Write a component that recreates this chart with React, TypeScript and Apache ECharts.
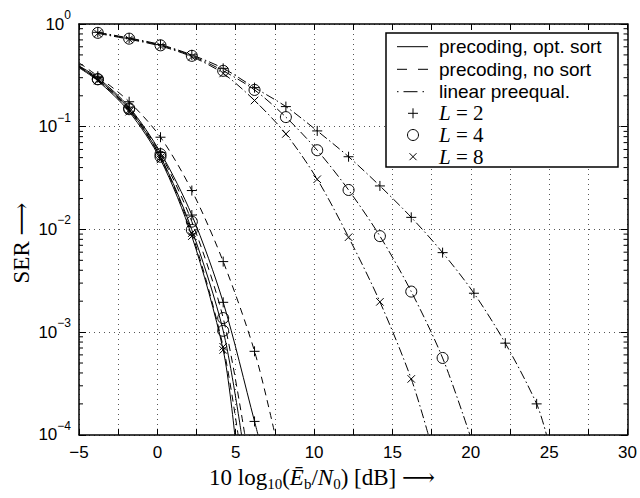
import React, { useEffect, useRef } from "react";
import * as echarts from "echarts";

// Marker positions (dB)
const snrDb = [-3.8, -1.8, 0.2, 2.2, 4.2, 6.2, 8.2, 10.2, 12.2, 14.2, 16.2, 18.2, 20.2, 22.2, 24.2];

// Precoding, optimum sorting (solid)
const optL2 = [0.3, 0.155, 0.056, 0.0138, 0.00195, 0.000135];
const optL4 = [0.29, 0.148, 0.051, 0.0099, 0.00103];
const optL8 = [0.28, 0.14, 0.048, 0.0086, 0.00067];
// Precoding, no sorting (dashed)
const nsL2 = [0.31, 0.175, 0.079, 0.0239, 0.00486, 0.00065];
const nsL4 = [0.29, 0.151, 0.054, 0.0119, 0.00137];
const nsL8 = [0.285, 0.145, 0.05, 0.0092, 0.00072];
// Linear pre-equalization (dash-dot)
const linL2 = [0.83, 0.73, 0.63, 0.5, 0.37, 0.24, 0.157, 0.091, 0.051, 0.0265, 0.0131, 0.00594, 0.00239, 0.00078, 0.0002];
const linL4 = [0.82, 0.72, 0.62, 0.49, 0.35, 0.228, 0.124, 0.059, 0.0242, 0.0086, 0.00248, 0.00056];
const linL8 = [0.81, 0.71, 0.61, 0.48, 0.33, 0.18, 0.085, 0.0308, 0.0084, 0.00197, 0.00035];

// Curve value at the left edge (-5 dB)
const startSer = { optL2: 0.39, optL4: 0.38, optL8: 0.375, nsL2: 0.42, nsL4: 0.39, nsL8: 0.385 };
// Where each curve leaves the plot at SER = 1e-4 (dB)
const exitOptL2 = 6.42, exitOptL4 = 5.37, exitOptL8 = 4.94;
const exitNsL2 = 7.51, exitNsL4 = 5.58, exitNsL8 = 5.15;
const exitLinL2 = 24.83, exitLinL4 = 19.94, exitLinL8 = 17.29;

const xTicks = [-5, 0, 5, 10, 15, 20, 25, 30];
const decades = [1e-4, 1e-3, 1e-2, 1e-1, 1];
const minorMultipliers = [2, 3, 4, 5, 6, 7, 8, 9];

const legendLabels = ["precoding, opt. sort", "precoding, no sort", "linear preequal."];
const legendL = ["2", "4", "8"];

const SANS = "'Liberation Sans', Arial, Helvetica, sans-serif";
const SERIF = "'Liberation Serif', 'DejaVu Serif', serif";

const PLUS = "path://M0,5L10,5M5,0L5,10";
const CROSS = "path://M0,0L10,10M10,0L0,10";

const DASHED = [7, 5];
const DASHDOT = [9, 3, 1.5, 3];

const SER_MIN = 1e-4;

function buildData(values: number[], start: number | null, exit: number) {
  const d: any[] = [];
  if (start != null) d.push({ value: [-5, start], symbol: "none" });
  values.forEach((v, i) => d.push([snrDb[i], v]));
  d.push({ value: [exit, SER_MIN], symbol: "none" });
  return d;
}

function lineSeries(values: number[], start: number | null, exit: number, dash: any, sym: string) {
  const size = sym === "circle" ? 11 : sym === PLUS ? 10 : 7.5;
  return {
    type: "line",
    data: buildData(values, start, exit),
    symbol: sym,
    symbolSize: size,
    showAllSymbol: true,
    smooth: 0.3,
    clip: true,
    lineStyle: { color: "#000", width: 1, type: dash },
    itemStyle: { color: "rgba(0,0,0,0)", borderColor: "#000", borderWidth: 1 },
    emphasis: { disabled: true },
    silent: true,
    z: 3,
  };
}

const fmtX = (v: number) => String(v).replace("-", "\u2212");

export default function App() {
  const ref = useRef<HTMLDivElement>(null);
  useEffect(() => {
    const chart = echarts.init(ref.current!, null, { renderer: "svg" });

    const minorTicks: number[] = [];
    decades.slice(0, -1).forEach((d) => minorMultipliers.forEach((m) => minorTicks.push(d * m)));

    const gridLine = { show: true, lineStyle: { color: "#555", width: 1, type: [1, 4] } };
    const axisLine = { show: true, onZero: false, lineStyle: { color: "#000", width: 1.5 } };

    // legend graphics
    const lx0 = 397, lx1 = 428, lmx = 413, ltx = 439;
    const rows = [46.7, 69.3, 91.7, 113.3, 135, 156.7];
    const legendEls: any[] = [
      {
        type: "rect",
        shape: { x: 386, y: 33, width: 232, height: 134 },
        style: { fill: "#fff", stroke: "#000", lineWidth: 1.5 },
        z: 10,
      },
    ];
    const dashes = [null, [10, 11], [1.5, 5, 14, 5]];
    legendLabels.forEach((t, i) => {
      legendEls.push({
        type: "line",
        shape: { x1: lx0, y1: rows[i], x2: lx1, y2: rows[i] },
        style: { stroke: "#000", lineWidth: 1, lineDash: dashes[i] || undefined },
        z: 11,
      });
      legendEls.push({
        type: "text",
        x: ltx,
        y: rows[i],
        style: { text: t, font: `19px ${SANS}`, fill: "#000", textVerticalAlign: "middle" },
        z: 11,
      });
    });
    legendL.forEach((l, i) => {
      const y = rows[3 + i];
      if (i === 0) {
        legendEls.push({ type: "line", shape: { x1: lmx - 5, y1: y, x2: lmx + 5, y2: y }, style: { stroke: "#000", lineWidth: 1 }, z: 11 });
        legendEls.push({ type: "line", shape: { x1: lmx, y1: y - 5, x2: lmx, y2: y + 5 }, style: { stroke: "#000", lineWidth: 1 }, z: 11 });
      } else if (i === 1) {
        legendEls.push({ type: "circle", shape: { cx: lmx, cy: y, r: 5.5 }, style: { fill: "none", stroke: "#000", lineWidth: 1 }, z: 11 });
      } else {
        legendEls.push({ type: "line", shape: { x1: lmx - 3.5, y1: y - 3.5, x2: lmx + 3.5, y2: y + 3.5 }, style: { stroke: "#000", lineWidth: 1 }, z: 11 });
        legendEls.push({ type: "line", shape: { x1: lmx - 3.5, y1: y + 3.5, x2: lmx + 3.5, y2: y - 3.5 }, style: { stroke: "#000", lineWidth: 1 }, z: 11 });
      }
      legendEls.push({
        type: "text",
        x: ltx,
        y,
        style: {
          text: `{i|L}{n| = ${l}}`,
          textVerticalAlign: "middle",
          rich: {
            i: { fontFamily: SERIF, fontStyle: "italic", fontSize: 21, fill: "#000" },
            n: { fontFamily: SERIF, fontSize: 21, fill: "#000" },
          },
        },
        z: 11,
      });
    });

    const option: any = {
      animation: false,
      backgroundColor: "#fff",
      grid: { left: 79, right: 12.4, top: 24, bottom: 63.2, containLabel: false },
      xAxis: [
        {
          type: "value",
          min: -5,
          max: 30,
          interval: 2.5,
          position: "bottom",
          axisLine,
          axisTick: { show: true, inside: true, length: 6, lineStyle: { color: "#000", width: 1 } },
          axisLabel: {
            fontFamily: SANS,
            fontSize: 17,
            color: "#000",
            margin: 9,
            formatter: (v: number) => (xTicks.includes(v) ? fmtX(v) : ""),
          },
          splitLine: gridLine,
        },
        {
          type: "value",
          min: -5,
          max: 30,
          interval: 2.5,
          position: "top",
          axisLine,
          axisTick: { show: true, inside: true, length: 6, lineStyle: { color: "#000", width: 1 } },
          axisLabel: { show: false },
          splitLine: { show: false },
        },
      ],
      yAxis: [
        {
          type: "log",
          logBase: 10,
          min: SER_MIN,
          max: 1,
          position: "left",
          axisLine,
          axisTick: { show: true, inside: true, length: 7, lineStyle: { color: "#000", width: 1 } },
          axisLabel: {
            margin: 8,
            formatter: (v: number) => {
              const e = Math.round(Math.log10(v));
              return `{b|10}{s|${e < 0 ? "\u2212" + -e : e}}`;
            },
            rich: {
              b: { fontFamily: SANS, fontSize: 17, color: "#000", lineHeight: 18 },
              s: { fontFamily: SANS, fontSize: 12, color: "#000", lineHeight: 12, padding: [0, 0, 18, 0] },
            },
          },
          splitLine: gridLine,
        },
        {
          type: "log",
          logBase: 10,
          min: SER_MIN,
          max: 1,
          position: "right",
          axisLine,
          axisTick: { show: true, inside: true, length: 7, lineStyle: { color: "#000", width: 1 } },
          axisLabel: { show: false },
          splitLine: { show: false },
        },
      ],
      series: [
        lineSeries(optL2, startSer.optL2, exitOptL2, "solid", PLUS),
        lineSeries(optL4, startSer.optL4, exitOptL4, "solid", "circle"),
        lineSeries(optL8, startSer.optL8, exitOptL8, "solid", CROSS),
        lineSeries(nsL2, startSer.nsL2, exitNsL2, DASHED, PLUS),
        lineSeries(nsL4, startSer.nsL4, exitNsL4, DASHED, "circle"),
        lineSeries(nsL8, startSer.nsL8, exitNsL8, DASHED, CROSS),
        lineSeries(linL2, null, exitLinL2, DASHDOT, PLUS),
        lineSeries(linL4, null, exitLinL4, DASHDOT, "circle"),
        lineSeries(linL8, null, exitLinL8, DASHDOT, CROSS),
        {
          type: "custom",
          xAxisIndex: 0,
          yAxisIndex: 0,
          silent: true,
          z: 5,
          data: minorTicks.map((v) => [-5, v]),
          renderItem: (params: any, api: any) => {
            const v = api.value(1);
            const l = api.coord([-5, v]);
            const r = api.coord([30, v]);
            return {
              type: "group",
              children: [
                { type: "line", shape: { x1: l[0], y1: l[1], x2: l[0] + 4, y2: l[1] }, style: { stroke: "#000", lineWidth: 1 } },
                { type: "line", shape: { x1: r[0], y1: r[1], x2: r[0] - 4, y2: r[1] }, style: { stroke: "#000", lineWidth: 1 } },
              ],
            };
          },
        },
      ],
      graphic: [
        ...legendEls,
        {
          type: "text",
          x: 322,
          y: 477,
          style: {
            text: "{n|10 log}{sb|10}{n|(}{i|\u0112}{sb|b}{n|/}{i|N}{sb|0}{n|) [dB] \u27F6}",
            textAlign: "center",
            textVerticalAlign: "middle",
            rich: {
              n: { fontFamily: SERIF, fontSize: 23, fill: "#000", lineHeight: 26 },
              i: { fontFamily: SERIF, fontStyle: "italic", fontSize: 23, fill: "#000", lineHeight: 26 },
              sb: { fontFamily: SERIF, fontSize: 15, fill: "#000", lineHeight: 15, padding: [13, 0, 0, 0] },
            },
          },
        },
        {
          type: "text",
          x: 21,
          y: 243,
          rotation: Math.PI / 2,
          style: {
            text: "SER \u27F6",
            font: `23px ${SERIF}`,
            fill: "#000",
            textAlign: "center",
            textVerticalAlign: "middle",
          },
        },
      ],
    };
    chart.setOption(option);
    return () => chart.dispose();
  }, []);
  return <div ref={ref} style={{ position: "fixed", left: 0, top: 0, width: 640, height: 498 }} />;
}
